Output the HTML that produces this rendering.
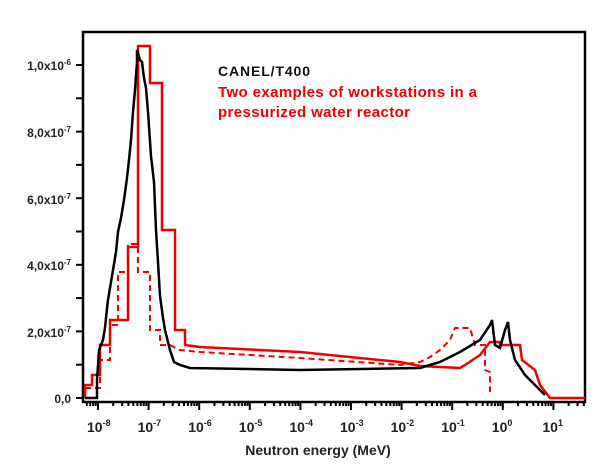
<!DOCTYPE html>
<html><head><meta charset="utf-8"><style>html,body{margin:0;padding:0;background:#fff}svg{display:block}svg text{font-weight:bold;font-family:"Liberation Sans",Arial,sans-serif}</style></head>
<body>
<svg id="s" width="613" height="470" xmlns="http://www.w3.org/2000/svg">
<rect x="83" y="32" width="502" height="370" fill="none" stroke="#000" stroke-width="2.5"/>
<g id="ticks" stroke="#000" stroke-width="2"></g>
<g font-size="12" text-anchor="end" fill="#222">
<text x="71" y="403">0,0</text>
<text x="71" y="337">2,0x10<tspan dy="-5" font-size="8">-7</tspan></text>
<text x="71" y="270">4,0x10<tspan dy="-5" font-size="8">-7</tspan></text>
<text x="71" y="204">6,0x10<tspan dy="-5" font-size="8">-7</tspan></text>
<text x="71" y="137">8,0x10<tspan dy="-5" font-size="8">-7</tspan></text>
<text x="71" y="70">1,0x10<tspan dy="-5" font-size="8">-6</tspan></text>
</g>
<g id="xl" font-size="14" fill="#222"></g>
<text x="318" y="455" font-size="14" text-anchor="middle" fill="#222">Neutron energy (MeV)</text>
<text x="218" y="76" font-size="14" fill="#111" textLength="92" lengthAdjust="spacing">CANEL/T400</text>
<text x="218" y="97" font-size="15" fill="#e00" textLength="259" lengthAdjust="spacing">Two examples of workstations in a</text>
<text x="218" y="117" font-size="15" fill="#e00" textLength="192" lengthAdjust="spacing">pressurized water reactor</text>
<g fill="none" stroke-linejoin="miter">
<polyline stroke="#e00" stroke-width="2" stroke-dasharray="6,4" points="85,388 100,388 100,360 110,360 110,325 118,325 118,272 128,272 128,244 138,244 138,272 150,272 150,330 160,330 160,345 170,345 180,350 200,352 300,358 400,365 420,362 430,357 440,350 450,340 455,328 470,328 475,345 485,345 485,370 490,372 490,392"/>
<polyline stroke="#e00" stroke-width="2.5" points="85,398 85,385 92,385 92,375 100,375 100,345 110,345 110,320 128,320 128,247 138,247 138,46 150,46 150,83 162,83 162,230 175,230 175,330 185,330 185,345 200,347 300,352 400,362 420,366 460,368 465,365 480,355 490,342 500,342 500,345 520,345 522,360 535,370 540,385 550,398 585,398"/>
<polyline stroke="#000" stroke-width="2.5" points="85,398 97,398 97,380 99,350 101,345 103,340 105,328 106,318 108,300 110,288 113,270 116,252 118,232 121,218 124,200 127,178 129,160 131,140 133,112 135,90 137,62 137,50 140,60 142,62 144,78 146,88 148,112 151,156 154,182 156,230 158,262 160,296 163,318 165,330 168,342 170,350 174,362 180,365 190,368 300,370 420,368 440,362 460,352 480,340 490,325 492,320 495,345 500,348 505,330 508,322 510,340 515,360 525,375 535,385 545,395"/>
</g>
</svg>
<script>
var t=document.getElementById('ticks'),xl=document.getElementById('xl'),ns='http://www.w3.org/2000/svg';
function L(x1,y1,x2,y2){var l=document.createElementNS(ns,'line');l.setAttribute('x1',x1);l.setAttribute('y1',y1);l.setAttribute('x2',x2);l.setAttribute('y2',y2);t.appendChild(l);}
function px(e){return 98+50.6*(e+8);}
for(var d=-9;d<=1;d++){for(var m=1;m<10;m++){var x=px(d+Math.log10(m));if(x<84||x>585)continue;L(x,402,x,m==1?410:406);}
 if(d>=-8){var tx=document.createElementNS(ns,'text');tx.setAttribute('x',px(d)-11);tx.setAttribute('y',432);tx.innerHTML='10<tspan dy="-6" font-size="9">'+d+'</tspan>';xl.appendChild(tx);}}
for(var i=0;i<=10;i++){var y=398-i*33.3;L(76,y,84,y);}
</script>
</body></html>
